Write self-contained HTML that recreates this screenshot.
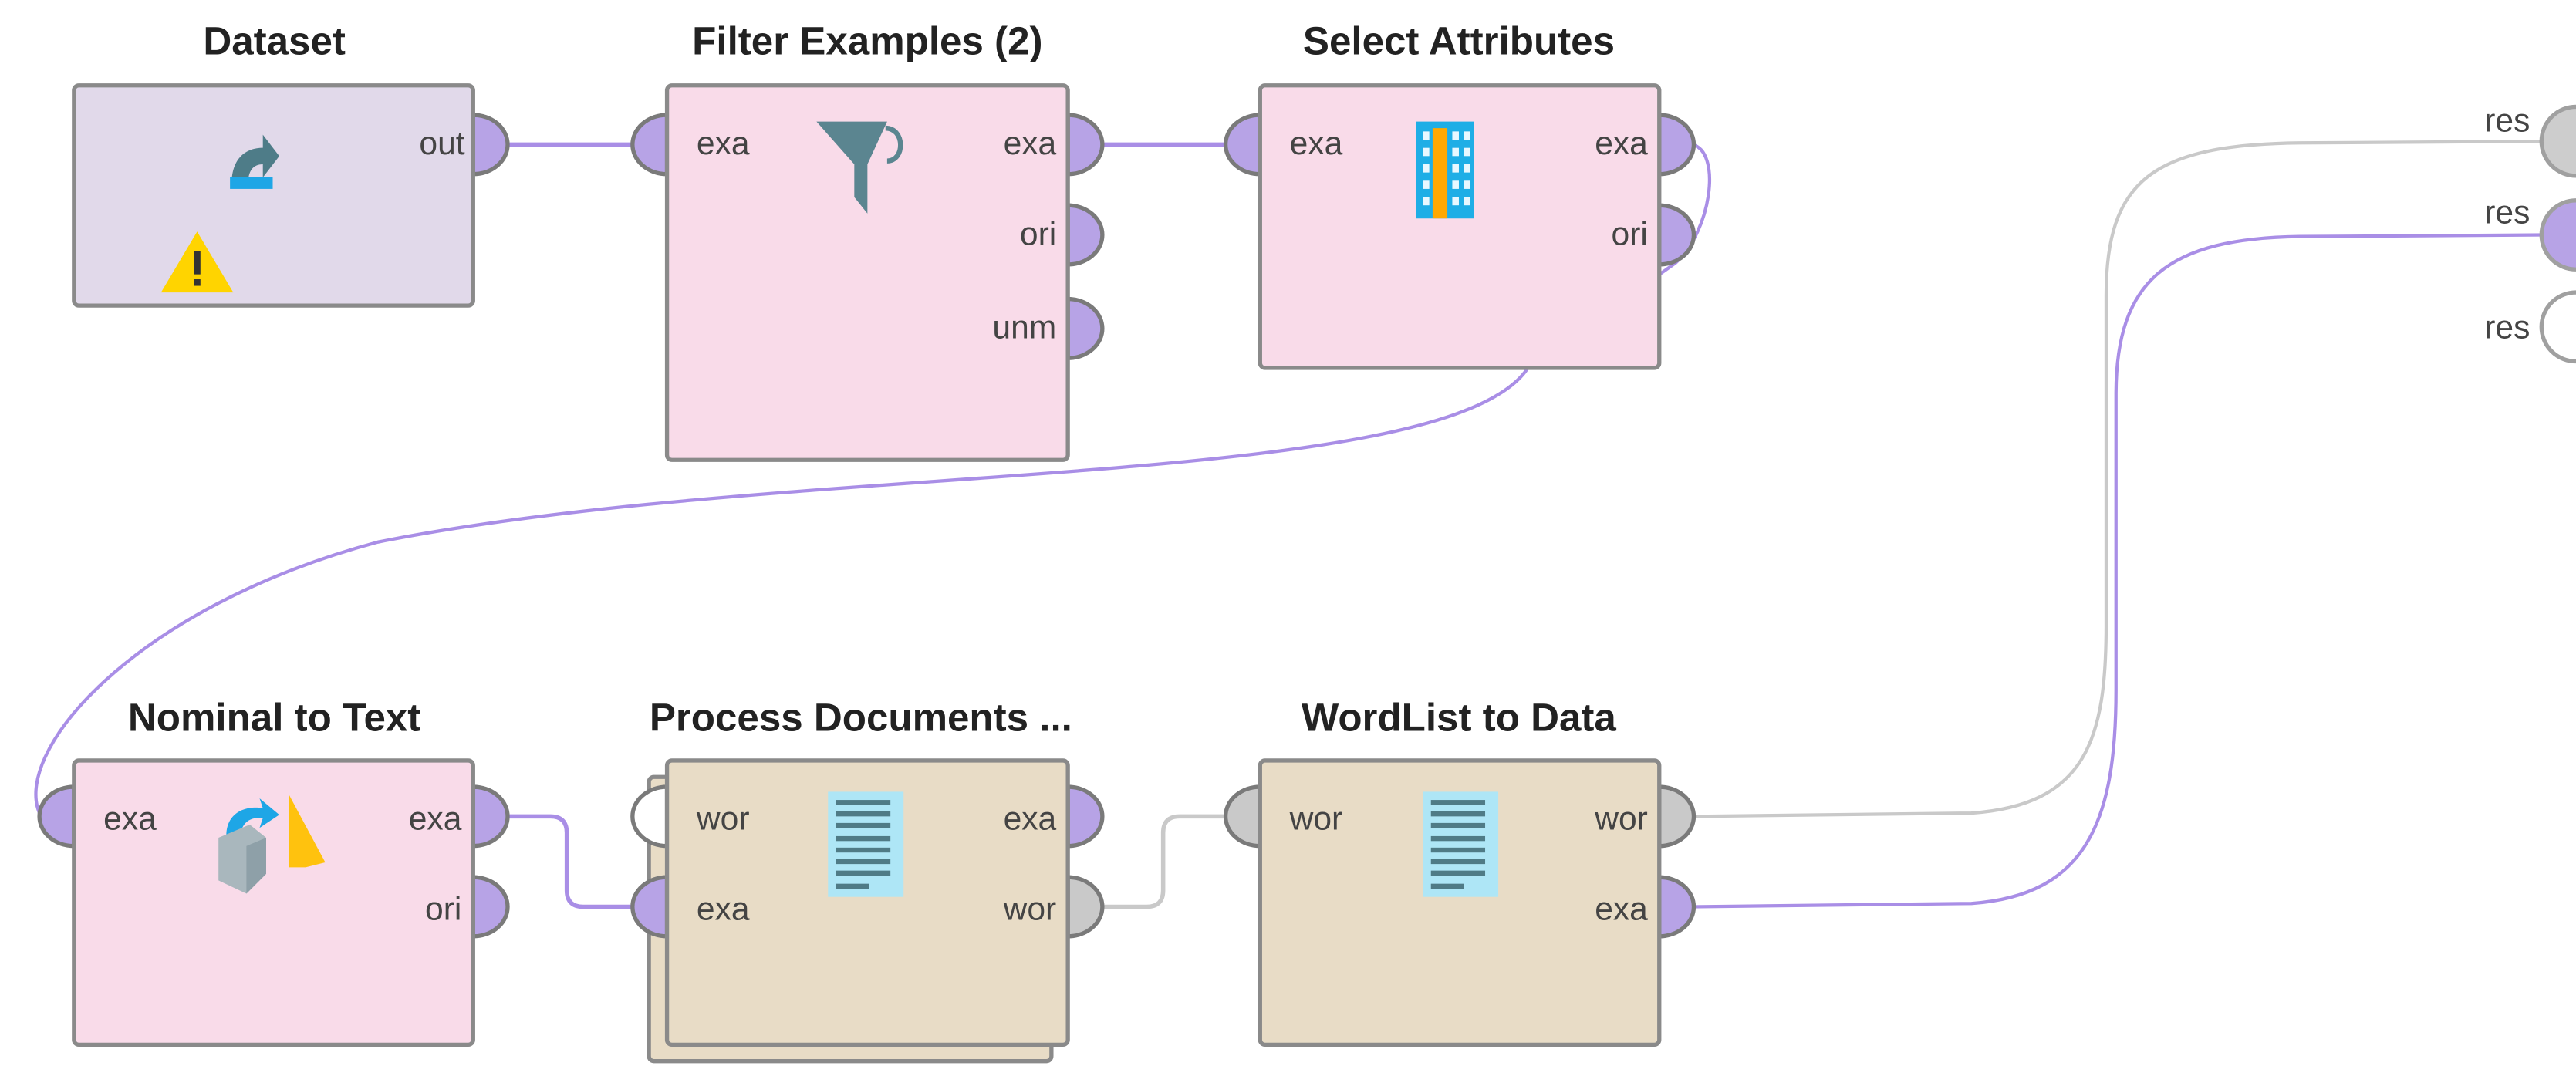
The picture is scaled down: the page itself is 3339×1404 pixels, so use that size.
<!DOCTYPE html>
<html><head><meta charset="utf-8"><style>
html,body{margin:0;padding:0;background:#fff}
svg{display:block}
text{font-family:"Liberation Sans",sans-serif}
.t{font-size:24px;font-weight:bold;fill:#222;text-anchor:middle}
.p{font-size:20px;fill:#444}
.box{stroke:#8a8a8a;stroke-width:2.5}
.pp{fill:#b7a3e6;stroke:#7a7a7a;stroke-width:2.5}
.pg{fill:#c9c9c9;stroke:#7a7a7a;stroke-width:2.5}
</style></head><body>
<svg width="3339" height="1404" viewBox="0 0 1568 659.3" xmlns="http://www.w3.org/2000/svg">
<g fill="none" stroke-width="2.6">
<path d="M309,88 L386,88" stroke="#a98ee6"/>
<path d="M670,88 L747,88" stroke="#a98ee6"/>
<path d="M1030,88 C1048,92 1042,140 1020,160 L930,224 C880,300 480,280 230,330 C80,370 5,460 25,497" stroke="#a98ee6" stroke-width="2"/>
<path d="M309,497 L335,497 Q345,497 345,507 L345,542 Q345,552 355,552 L386,552" stroke="#a98ee6"/>
<path d="M670,552 L698,552 Q708,552 708,542 L708,507 Q708,497 718,497 L747,497" stroke="#c9c9c9"/>
<path d="M1030,497 L1200,495 C1270,490 1282,450 1282,380 L1282,180 C1282,110 1310,88 1400,87 L1548,86" stroke="#c9c9c9" stroke-width="2"/>
<path d="M1030,552 L1200,550 C1270,545 1288,500 1288,420 L1288,240 C1288,170 1320,145 1400,144 L1548,143" stroke="#a98ee6" stroke-width="2"/>
</g>
<text class="t" x="167" y="33">Dataset</text>
<text class="t" x="528" y="33">Filter Examples (2)</text>
<text class="t" x="888" y="33">Select Attributes</text>
<text class="t" x="167" y="445">Nominal to Text</text>
<text class="t" x="524" y="445">Process Documents ...</text>
<text class="t" x="888" y="445">WordList to Data</text>

<path class="pp" d="M288,70 A21,18 0 0 1 288,106 Z"/>
<rect class="box" x="45" y="52" width="243" height="134" rx="3" fill="#e1d9ea"/>
<text class="p" x="283" y="94" text-anchor="end">out</text>
<path d="M141,112 C141,96 150,90 160,90 L160,82 L170,95 L160,108 L160,100 C154,100 151,104 151,112 Z" fill="#4e7c88"/>
<rect x="140" y="108" width="26" height="7" fill="#1ea6e6"/>
<polygon points="120,141 98,178 142,178" fill="#ffd400"/>
<rect x="118" y="153" width="4" height="14" fill="#333"/><rect x="118" y="170" width="4" height="4" fill="#333"/>

<path class="pp" d="M406,70 A21,18 0 0 0 406,106 Z"/>
<path class="pp" d="M650,70 A21,18 0 0 1 650,106 Z"/>
<path class="pp" d="M650,125 A21,18 0 0 1 650,161 Z"/>
<path class="pp" d="M650,182 A21,18 0 0 1 650,218 Z"/>
<rect class="box" x="406" y="52" width="244" height="228" rx="3" fill="#f9dbe9"/>
<text class="p" x="424" y="94">exa</text>
<text class="p" x="643" y="94" text-anchor="end">exa</text>
<text class="p" x="643" y="149" text-anchor="end">ori</text>
<text class="p" x="643" y="206" text-anchor="end">unm</text>
<polygon points="497,74 540,74 528,100 528,130 520,120 520,100" fill="#5b8590"/>
<path d="M539,78 C551,78 551,98 540,98" fill="none" stroke="#5b8590" stroke-width="3"/>

<path class="pp" d="M767,70 A21,18 0 0 0 767,106 Z"/>
<path class="pp" d="M1010,70 A21,18 0 0 1 1010,106 Z"/>
<path class="pp" d="M1010,125 A21,18 0 0 1 1010,161 Z"/>
<rect class="box" x="767" y="52" width="243" height="172" rx="3" fill="#f9dbe9"/>
<text class="p" x="785" y="94">exa</text>
<text class="p" x="1003" y="94" text-anchor="end">exa</text>
<text class="p" x="1003" y="149" text-anchor="end">ori</text>
<rect x="862" y="74" width="35" height="59" fill="#1eaee6"/>
<g fill="#e8f8ff">
<rect x="866" y="80" width="4" height="5"/><rect x="884" y="80" width="4" height="5"/><rect x="891" y="80" width="4" height="5"/>
<rect x="866" y="90" width="4" height="5"/><rect x="884" y="90" width="4" height="5"/><rect x="891" y="90" width="4" height="5"/>
<rect x="866" y="100" width="4" height="5"/><rect x="884" y="100" width="4" height="5"/><rect x="891" y="100" width="4" height="5"/>
<rect x="866" y="110" width="4" height="5"/><rect x="884" y="110" width="4" height="5"/><rect x="891" y="110" width="4" height="5"/>
<rect x="866" y="120" width="4" height="5"/><rect x="884" y="120" width="4" height="5"/><rect x="891" y="120" width="4" height="5"/>
</g>
<rect x="872" y="78" width="9" height="55" fill="#ffa800"/>

<path class="pp" d="M45,479 A21,18 0 0 0 45,515 Z"/>
<path class="pp" d="M288,479 A21,18 0 0 1 288,515 Z"/>
<path class="pp" d="M288,534 A21,18 0 0 1 288,570 Z"/>
<rect class="box" x="45" y="463" width="243" height="173" rx="3" fill="#f9dbe9"/>
<text class="p" x="63" y="505">exa</text>
<text class="p" x="281" y="505" text-anchor="end">exa</text>
<text class="p" x="281" y="560" text-anchor="end">ori</text>
<polygon points="176,484 198,525 186,528 176,528" fill="#ffc20e"/>
<path d="M138,512 C136,496 148,490 160,492 L158,486 L170,496 L158,504 L160,498 C150,497 146,503 146,512 Z" fill="#1ea6e6"/>
<polygon points="133,510 152,502 162,510 162,532 150,544 133,536" fill="#a9b7bd"/>
<polygon points="150,515 162,510 162,532 150,544" fill="#8ea0a8"/>

<rect class="box" x="395" y="473" width="245" height="173" rx="3" fill="#e8dcc6"/>
<path d="M406,479 A21,18 0 0 0 406,515 Z" fill="#fff" stroke="#7a7a7a" stroke-width="2.5"/>
<path class="pp" d="M406,534 A21,18 0 0 0 406,570 Z"/>
<path class="pp" d="M650,479 A21,18 0 0 1 650,515 Z"/>
<path class="pg" d="M650,534 A21,18 0 0 1 650,570 Z"/>
<rect class="box" x="406" y="463" width="244" height="173" rx="3" fill="#e8dcc6"/>
<text class="p" x="424" y="505">wor</text>
<text class="p" x="424" y="560">exa</text>
<text class="p" x="643" y="505" text-anchor="end">exa</text>
<text class="p" x="643" y="560" text-anchor="end">wor</text>
<rect x="504" y="482" width="46" height="64" fill="#aee6f6"/>
<g fill="#4f7b86"><rect x="509" y="487" width="33" height="3"/><rect x="509" y="494" width="33" height="3"/><rect x="509" y="501" width="33" height="3"/><rect x="509" y="509" width="33" height="3"/><rect x="509" y="516" width="33" height="3"/><rect x="509" y="523" width="33" height="3"/><rect x="509" y="530" width="33" height="3"/><rect x="509" y="538" width="20" height="3"/></g>

<path class="pg" d="M767,479 A21,18 0 0 0 767,515 Z"/>
<path class="pg" d="M1010,479 A21,18 0 0 1 1010,515 Z"/>
<path class="pp" d="M1010,534 A21,18 0 0 1 1010,570 Z"/>
<rect class="box" x="767" y="463" width="243" height="173" rx="3" fill="#e8dcc6"/>
<text class="p" x="785" y="505">wor</text>
<text class="p" x="1003" y="505" text-anchor="end">wor</text>
<text class="p" x="1003" y="560" text-anchor="end">exa</text>
<rect x="866" y="482" width="46" height="64" fill="#aee6f6"/>
<g fill="#4f7b86"><rect x="871" y="487" width="33" height="3"/><rect x="871" y="494" width="33" height="3"/><rect x="871" y="501" width="33" height="3"/><rect x="871" y="509" width="33" height="3"/><rect x="871" y="516" width="33" height="3"/><rect x="871" y="523" width="33" height="3"/><rect x="871" y="530" width="33" height="3"/><rect x="871" y="538" width="20" height="3"/></g>

<circle cx="1568" cy="86" r="21" fill="#cdcdcd" stroke="#a0a0a0" stroke-width="2.5"/>
<circle cx="1568" cy="143" r="21" fill="#b7a3e6" stroke="#a0a0a0" stroke-width="2.5"/>
<circle cx="1568" cy="199" r="21" fill="#fff" stroke="#a0a0a0" stroke-width="2.5"/>
<text class="p" x="1540" y="80" text-anchor="end">res</text>
<text class="p" x="1540" y="136" text-anchor="end">res</text>
<text class="p" x="1540" y="206" text-anchor="end">res</text>
</svg>
</body></html>
